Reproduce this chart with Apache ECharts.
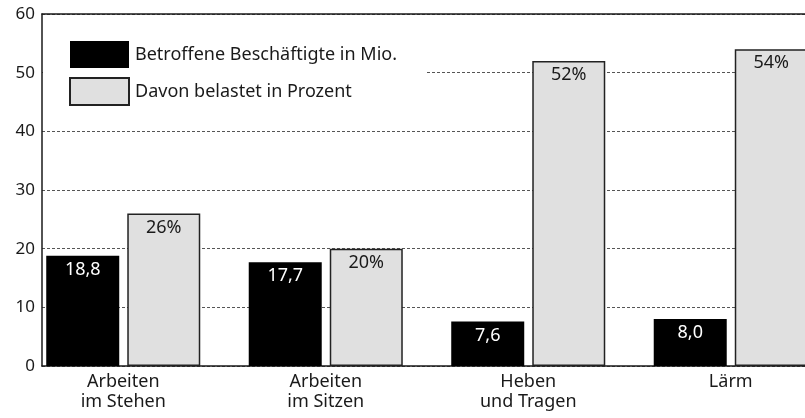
<!DOCTYPE html>
<html>
<head>
<meta charset="utf-8">
<script src="https://cdn.jsdelivr.net/npm/echarts@6/dist/echarts.min.js"></script>
<style>
  html, body { margin: 0; padding: 0; background: #fff; }
  #chart { width: 805px; height: 418px; }
</style>
</head>
<body>
<div id="chart"></div>
<script>
// Daten
const categories = ['Arbeiten\nim Stehen', 'Arbeiten\nim Sitzen', 'Heben\nund Tragen', 'Lärm'];
const beschaeftigte = [18.8, 17.7, 7.6, 8.0];
const belastetProzent = [26, 20, 52, 54];
const yTicks = { min: 0, max: 60, interval: 10 };

const FONT = 'Noto Sans';
const INK = '#1a1a1a';

const chart = echarts.init(document.getElementById('chart'));
chart.setOption({
    animation: false,
    textStyle: { fontFamily: FONT },
    grid: [
        { left: 42, right: 0, top: 14, bottom: 52, outerBoundsMode: 'none' },
        // zweites Raster nur fuer die Balken-Kategorien (breiter als der Rahmen)
        { left: 22, width: 810, top: 14, bottom: 52, outerBoundsMode: 'none' }
    ],
    legend: {
        orient: 'vertical',
        left: 43,
        top: 31,
        padding: [10, 30, 10, 26],
        backgroundColor: '#fff',
        itemWidth: 59,
        itemHeight: 27,
        itemGap: 9,
        icon: 'rect',
        textStyle: { fontFamily: FONT, fontSize: 18, color: INK, padding: [0, 0, 0, 1] },
        data: ['Betroffene Beschäftigte in Mio.', 'Davon belastet in Prozent']
    },
    xAxis: [
        {
            gridIndex: 0, type: 'category', data: categories,
            axisLine: { lineStyle: { color: INK, width: 1.5 } },
            axisTick: { show: false }, axisLabel: { show: false }
        },
        {
            gridIndex: 0, type: 'category', position: 'top', data: categories,
            axisLine: { lineStyle: { color: INK, width: 1.5 } },
            axisTick: { show: false }, axisLabel: { show: false }
        },
        {
            gridIndex: 1, type: 'category', data: categories,
            axisLine: { show: false }, axisTick: { show: false },
            axisLabel: { fontFamily: FONT, fontSize: 18, color: INK, margin: 6, lineHeight: 20 }
        }
    ],
    yAxis: [
        {
            gridIndex: 0, type: 'value', min: yTicks.min, max: yTicks.max, interval: yTicks.interval,
            axisLine: { show: true, lineStyle: { color: INK, width: 1.5 } },
            axisTick: { show: false },
            axisLabel: { fontFamily: FONT, fontSize: 17, color: INK, margin: 7 },
            splitLine: { lineStyle: { color: '#555', type: [3, 2], width: 1 } }
        },
        {
            gridIndex: 1, type: 'value', min: yTicks.min, max: yTicks.max, interval: yTicks.interval,
            show: false, splitLine: { show: false }
        }
    ],
    series: [
        {
            name: 'Betroffene Beschäftigte in Mio.',
            type: 'bar', xAxisIndex: 2, yAxisIndex: 1,
            data: beschaeftigte,
            barWidth: 73, barGap: '11%',
            itemStyle: { color: '#000' },
            label: {
                show: true, position: 'insideTop', distance: 5,
                color: '#fff', fontFamily: FONT, fontSize: 18,
                formatter: p => p.value.toFixed(1).replace('.', ',')
            }
        },
        {
            name: 'Davon belastet in Prozent',
            type: 'bar', xAxisIndex: 2, yAxisIndex: 1,
            data: belastetProzent,
            barWidth: 73,
            itemStyle: { color: '#e0e0e0', borderColor: '#222', borderWidth: 1.5 },
            label: {
                show: true, position: 'insideTop', distance: 5,
                color: INK, fontFamily: FONT, fontSize: 18,
                formatter: p => p.value + '%'
            }
        }
    ]
});
</script>
</body>
</html>
